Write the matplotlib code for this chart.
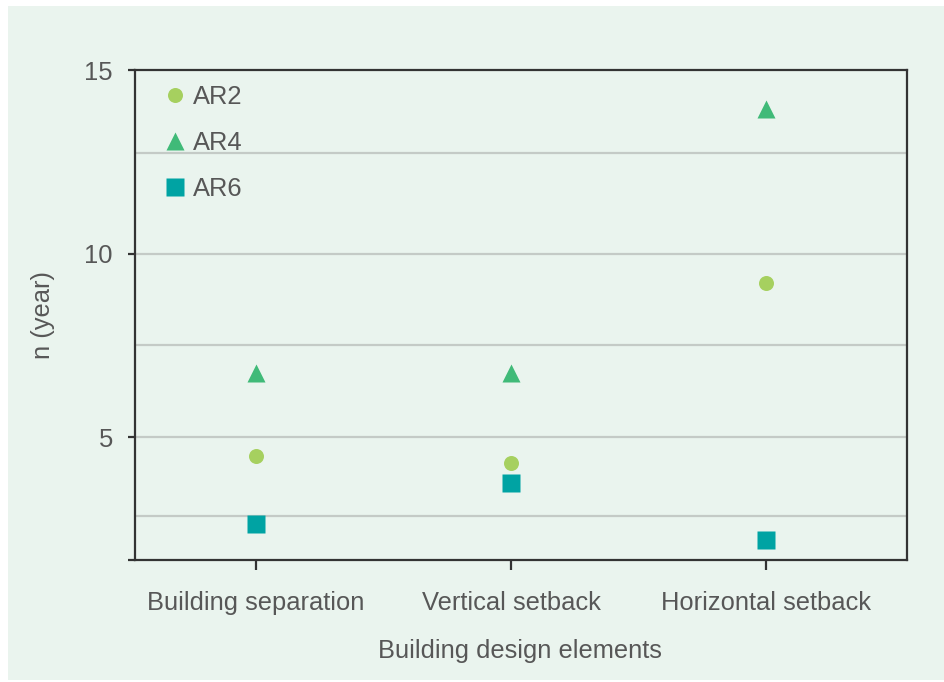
import matplotlib.pyplot as plt
from matplotlib.patches import Rectangle

plt.rcParams['font.family'] = ['Liberation Sans', 'DejaVu Sans']

# data
categories = ['Building separation', 'Vertical setback', 'Horizontal setback']
ar2 = [4.5, 4.3, 9.2]
ar4 = [6.75, 6.75, 13.95]
ar6 = [2.65, 3.75, 2.2]
yticks = [5, 10, 15]
grid_levels = [2.85, 5, 7.5, 10, 12.75]

text_color = '#575757'
fs = 18.4

fig = plt.figure(figsize=(9.45, 6.82), dpi=100)
fig.patch.set_facecolor('white')
fig.patches.append(Rectangle((8 / 945, 2 / 682), 1, 674 / 682, transform=fig.transFigure,
                             facecolor='#eaf4ee', edgecolor='none', zorder=-10))

ax = fig.add_axes([135 / 945, 1 - 560 / 682, 772 / 945, 490 / 682])
ax.set_facecolor('none')

ymin, ymax = 1.66, 15.0
for g in grid_levels:
    ax.axhline(g, color='#c4cac6', lw=1.6, zorder=1)

x = list(range(len(categories)))
ax.plot(x, ar2, 'o', ms=10.8, color='#a6d05f', mec='none', label='AR2', zorder=3)
ax.plot(x, ar4, '^', ms=13, color='#40ba78', mec='none', label='AR4', zorder=3)
ax.plot(x, ar6, 's', ms=13.5, color='#00a3a3', mec='none', label='AR6', zorder=3)

ax.set_ylim(ymin, ymax)
ax.set_xlim(-0.475, 2.553)

ax.set_yticks([ymin] + yticks)
ax.set_yticklabels([''] + [str(t) for t in yticks])
ax.set_xticks(x)
ax.set_xticklabels(categories)

for s in ax.spines.values():
    s.set_linewidth(1.6)
    s.set_color('#333333')

ax.tick_params(axis='y', length=5, width=1.6, color='#333333', pad=11,
               labelsize=fs, labelcolor=text_color)
ax.tick_params(axis='x', length=7, width=1.6, color='#333333', pad=15,
               labelsize=fs, labelcolor=text_color)

ax.set_ylabel('n (year)', fontsize=fs, color=text_color)
ax.yaxis.set_label_coords(-0.104, 0.5)
ax.set_xlabel('Building design elements', fontsize=fs, color=text_color)
ax.xaxis.set_label_coords(0.499, -0.161)

ax.legend(loc='upper left', bbox_to_anchor=(0.035, 0.970), frameon=False,
          fontsize=fs, labelcolor=text_color, handlelength=1.0, handletextpad=0.2,
          borderpad=0, borderaxespad=0, labelspacing=0.86)

fig.savefig('out.png', dpi=100)
